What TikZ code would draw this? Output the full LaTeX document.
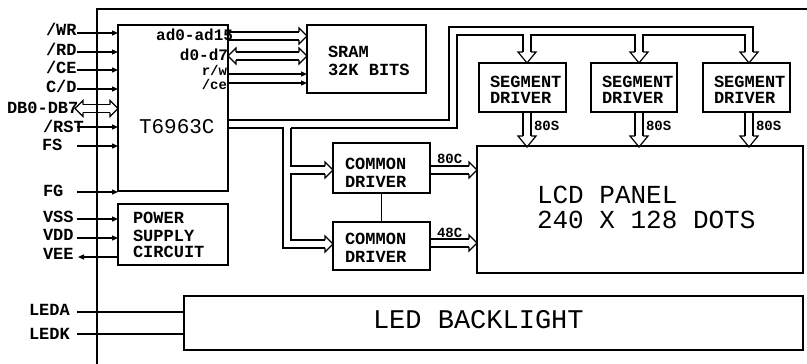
\documentclass[tikz,border=0pt]{standalone}
\usepackage{fontspec}
\setmainfont{Liberation Mono}
\usetikzlibrary{arrows.meta,calc}
\newcommand{\fs}[1]{\fontsize{#1}{#1}\selectfont}
\begin{document}
\begin{tikzpicture}[x=1pt,y=-1pt,
  box/.style={draw, line width=1.5pt, inner sep=0pt, outer sep=0pt, anchor=north west},
  ln/.style={line width=1.2pt},
  sarr/.style={ln, -{Triangle[length=6pt,width=5pt]}},
  dbl/.style={line width=1.2pt, double, double distance=6.8pt},
  txt/.style={inner sep=0pt, outer sep=0pt, font=\fs{17}\bfseries},
  hR/.pic={\draw[ln, line join=miter] (-8,-4) -- (-8,-8) -- (0,0) -- (-8,8) -- (-8,4);},
  hL/.pic={\draw[ln, line join=miter] (8,-4) -- (8,-8) -- (0,0) -- (8,8) -- (8,4);},
  hD/.pic={\draw[ln, line join=miter] (-4,-11) -- (-9,-11) -- (0,0) -- (9,-11) -- (4,-11);}
]
\useasboundingbox (0,0) rectangle (807,364);

% boxes
\node[box, minimum width=110pt, minimum height=166pt] (ctl) at (118,25) {};
\node[box, minimum width=119pt, minimum height=68pt] (sram) at (307,25) {};
\node[box, minimum width=110pt, minimum height=61pt] (pwr) at (118,204) {};
\node[box, minimum width=87pt, minimum height=49pt] (seg1) at (479,63) {};
\node[box, minimum width=86pt, minimum height=49pt] (seg2) at (591,63) {};
\node[box, minimum width=87pt, minimum height=49pt] (seg3) at (703,63) {};
\node[box, minimum width=97pt, minimum height=50pt] (com1) at (333,143) {};
\node[box, minimum width=97pt, minimum height=48pt] (com2) at (333,222) {};
\node[box, minimum width=326pt, minimum height=127pt] (lcd) at (477,146) {};
\node[box, minimum width=619pt, minimum height=54pt] (led) at (184,296) {};

% left signal start points
\coordinate (wr) at (77,33);
\coordinate (rd) at (77,52);
\coordinate (ce) at (77,70);
\coordinate (cd) at (77,89);
\coordinate (rst) at (77,127);
\coordinate (fsig) at (77,146);
\coordinate (fg) at (77,192);
\coordinate (vss) at (77,219);
\coordinate (vdd) at (77,238);
\coordinate (vee) at (78,257);
\coordinate (leda) at (77,312);
\coordinate (ledk) at (77,334);

\draw[sarr] (wr) -- (wr -| ctl.west);
\draw[sarr] (rd) -- (rd -| ctl.west);
\draw[sarr] (ce) -- (ce -| ctl.west);
\draw[sarr] (cd) -- (cd -| ctl.west);
\draw[sarr] (rst) -- (rst -| ctl.west);
\draw[sarr] (fsig) -- (fsig -| ctl.west);
\draw[sarr] (fg) -- (fg -| ctl.west);
\draw[sarr] (vss) -- (vss -| pwr.west);
\draw[sarr] (vdd) -- (vdd -| pwr.west);
\draw[sarr] (vee -| pwr.west) -- (vee);
\draw[ln] (leda) -- (leda -| led.west);
\draw[ln] (ledk) -- (ledk -| led.west);

% DB0-DB7 bidirectional bus
\coordinate (dbl) at (75,108.5);
\coordinate (dbr) at (118,108.5);
\draw[dbl] ($(dbl)+(8,0)$) -- ($(dbr)+(-8,0)$);
\pic at (dbl) {hL};
\pic at (dbr) {hR};

% controller to SRAM
\coordinate (ad) at (307,36);
\coordinate (dd) at (307,56);
\draw[dbl] (228.75,36) -- ($(ad)+(-8,0)$);
\pic at (ad) {hR};
\draw[dbl] (236,56) -- ($(dd)+(-8,0)$);
\pic at (228,56) {hL};
\pic at (dd) {hR};
\draw[sarr] (228,74) -- (307,74);
\draw[sarr] (228,83) -- (307,83);

% bus to segment drivers
\draw[ln] (228,120) -- (449,120) -- (449,27) -- (753,27) -- (753,52);
\draw[ln] (291,128) -- (457,128) -- (457,35) -- (523,35) -- (523,52);
\draw[ln] (531,52) -- (531,35) -- (635,35) -- (635,52);
\draw[ln] (643,52) -- (643,35) -- (745,35) -- (745,52);
\pic at (527,63) {hD};
\pic at (639,63) {hD};
\pic at (749,63) {hD};

% bus to common drivers
\draw[ln] (228,128) -- (283,128) -- (283,248) -- (325,248);
\draw[ln] (291,128) -- (291,166) -- (325,166);
\draw[ln] (325,174) -- (291,174) -- (291,240) -- (325,240);
\pic at (333,170) {hR};
\pic at (333,244) {hR};

% common drivers to LCD
\draw[dbl] (430.75,170) -- (469,170);
\pic at (477,170) {hR};
\draw[dbl] (430.75,243) -- (469,243);
\pic at (477,243) {hR};
\draw[ln] (com1.south) -- (com2.north);

% segment drivers to LCD
\draw[dbl] (527,112.75) -- (527,136);
\pic at (527,147) {hD};
\draw[dbl] (639,112.75) -- (639,136);
\pic at (639,147) {hD};
\draw[dbl] (749,112.75) -- (749,136);
\pic at (749,147) {hD};

% texts
\node[txt, anchor=base west] (twr) at (46,35.5) {/WR};
\node[txt, anchor=base west] (trd) at (46,55) {/RD};
\node[txt, anchor=base west] (tce) at (46,73) {/CE};
\node[txt, anchor=base west] (tcd) at (46,92) {C/D};
\node[txt, anchor=base west] (tdb) at (7,113) {DB0-DB7};
\node[txt, anchor=base west] (trst) at (43,132) {/RST};
\node[txt, anchor=base west] (tfs) at (42,150) {FS};
\node[txt, anchor=base west] (tfg) at (43,196) {FG};
\node[txt, anchor=base west] (tvss) at (43,222) {VSS};
\node[txt, anchor=base west] (tvdd) at (43,240) {VDD};
\node[txt, anchor=base west] (tvee) at (43,259) {VEE};
\node[txt, anchor=base west] (tleda) at (29,315) {LEDA};
\node[txt, anchor=base west] (tledk) at (29,339) {LEDK};

\node[txt, anchor=base west, font=\fs{21}] (tctl) at (139,133) {T6963C};
\node[txt, anchor=base east, font=\fs{16}\bfseries] (tad) at (233,41) {ad0-ad15};
\node[txt, anchor=base east, font=\fs{16}\bfseries] (tdd) at (228,60.5) {d0-d7};
\node[txt, anchor=base east, font=\fs{14}\bfseries] (trw) at (227,75.5) {r/w};
\node[txt, anchor=base east, font=\fs{14}\bfseries] (tcs) at (227,89) {/ce};

\node[txt, anchor=base west] (ts1) at (328,57) {SRAM};
\node[txt, anchor=base west] (ts2) at (328,75) {32K BITS};

\node[txt, anchor=base west] (tp1) at (133,223) {POWER};
\node[txt, anchor=base west] (tp2) at (133,241) {SUPPLY};
\node[txt, anchor=base west] (tp3) at (133,257) {CIRCUIT};

\node[txt, anchor=base west] (tg1a) at (490,87) {SEGMENT};
\node[txt, anchor=base west] (tg1b) at (490,103) {DRIVER};
\node[txt, anchor=base west] (tg2a) at (602,87) {SEGMENT};
\node[txt, anchor=base west] (tg2b) at (602,103) {DRIVER};
\node[txt, anchor=base west] (tg3a) at (714,87) {SEGMENT};
\node[txt, anchor=base west] (tg3b) at (714,103) {DRIVER};

\node[txt, anchor=base west, font=\fs{14}\bfseries] (t80s1) at (534,130) {80S};
\node[txt, anchor=base west, font=\fs{14}\bfseries] (t80s2) at (646,130) {80S};
\node[txt, anchor=base west, font=\fs{14}\bfseries] (t80s3) at (756,130) {80S};

\node[txt, anchor=base west] (tc1a) at (345,169) {COMMON};
\node[txt, anchor=base west] (tc1b) at (345,187) {DRIVER};
\node[txt, anchor=base west] (tc2a) at (345,244) {COMMON};
\node[txt, anchor=base west] (tc2b) at (345,262) {DRIVER};

\node[txt, anchor=base west, font=\fs{14}\bfseries] (t80c) at (437,163) {80C};
\node[txt, anchor=base west, font=\fs{14}\bfseries] (t48c) at (437,237) {48C};

\node[txt, anchor=base west, font=\fs{26}] (tl1) at (537,203) {LCD PANEL};
\node[txt, anchor=base west, font=\fs{26}] (tl2) at (537,228) {240 X 128 DOTS};

\node[txt, anchor=base west, font=\fs{27}] (tled) at (373,328) {LED BACKLIGHT};

% outer frame
\draw[line width=1.5pt] (807,9) -- (97,9) -- (97,364);
\end{tikzpicture}
\end{document}
